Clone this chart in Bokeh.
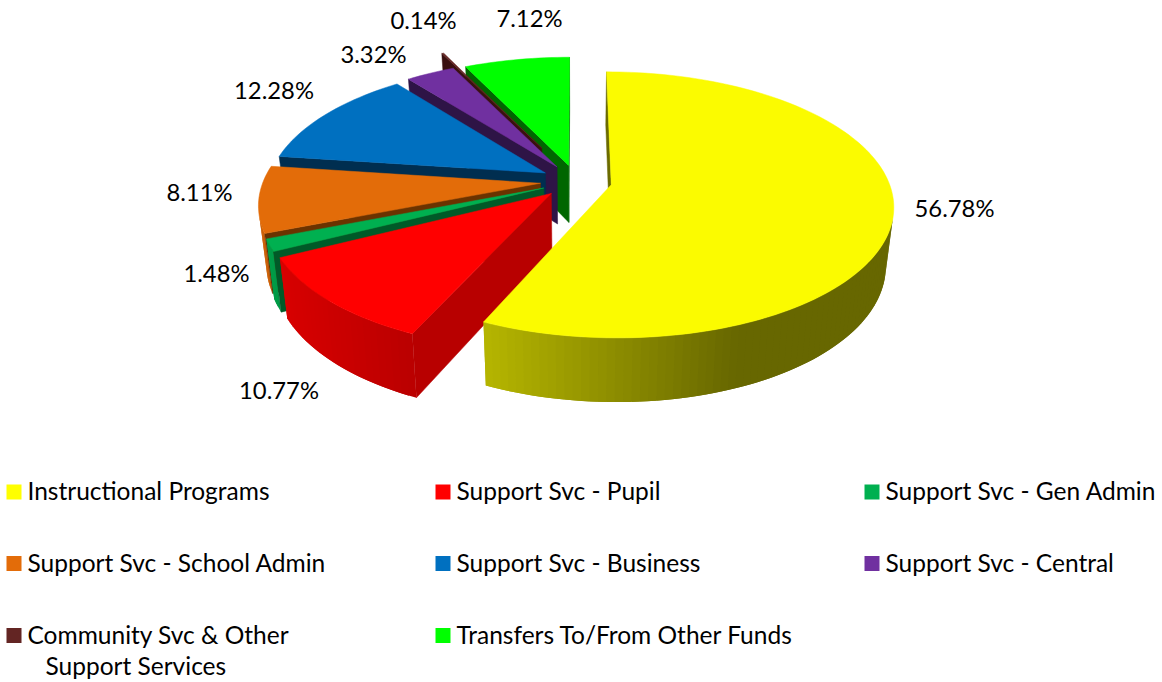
import numpy as np
from bokeh.plotting import figure
from bokeh.models import ColumnDataSource
from bokeh.core.properties import value
from bokeh.embed import file_html
from bokeh.resources import INLINE

categories = ["Instructional Programs", "Support Svc - Pupil", "Support Svc - Gen Admin",
              "Support Svc - School Admin", "Support Svc - Business", "Support Svc - Central",
              "Community Svc & Other", "Transfers To/From Other Funds"]
percent = [56.78, 10.77, 1.48, 8.11, 12.28, 3.32, 0.14, 7.12]
explode = [0.128, 0.129, 0.128, 0.130, 0.130, 0.133, 0.297, 0.128]
top_rgb = [(251, 251, 0), (255, 0, 0), (0, 176, 80), (227, 108, 9),
           (0, 112, 192), (112, 48, 160), (99, 37, 35), (0, 255, 0)]
legend_colors = ["#FFFF00", "#FF0000", "#00B050", "#E36C09", "#0070C0", "#7030A0", "#632523", "#00FF00"]
wall_colors = ["#6B6B00", "#B80000", "#005A28", "#6B3300", "#002E50", "#2E1446", "#3A1010", "#006600"]
label_xy = [(954, 207), (278.5, 389), (216, 272), (199, 191), (273.5, 89), (373, 53), (423, 19), (529, 17)]

# projection of the tilted disc onto the page
X0, Y0, BX, BY, KP, PHI = 575.9, 180.7, 277.3, 128.9, 0.151, -0.03
SHRINK, DEPTH, DEPTH_K = 0.975, 57.0, 0.042


def project(wx, wy):
    w = 1 + KP * wy
    return X0 + BX * wx / w, Y0 - BY * wy / w


def drop(sx, sy):
    return X0 + (sx - X0) * SHRINK, sy + DEPTH + DEPTH_K * (sy - 165)


def shade(rgb, sx):
    f = np.interp(sx, [262, 285, 416, 486, 737], [0.90, 0.84, 0.725, 0.72, 0.41])
    return "#%02x%02x%02x" % tuple(int(round(c * f)) for c in rgb)


def area(px, py):
    return sum(px[k] * py[(k + 1) % 4] - px[(k + 1) % 4] * py[k] for k in range(4))


edges = np.concatenate([[0], np.cumsum(percent)]) / sum(percent) * 360 + PHI
xs, ys, colors, edge_alpha = [], [], [], []


def add(px, py, color, alpha=1.0):
    xs.append(list(px))
    ys.append(list(py))
    colors.append(color)
    edge_alpha.append(alpha)


for i in range(len(percent) - 1, -1, -1):
    a0, a1 = edges[i], edges[i + 1]
    mid = np.radians((a0 + a1) / 2)
    ox, oy = explode[i] * np.sin(mid), explode[i] * np.cos(mid)
    n = max(2, int((a1 - a0) / 1.5))
    t = np.radians(np.linspace(a0, a1, n + 1))
    rx, ry = project(ox + np.sin(t), oy + np.cos(t))
    ax, ay = project(ox, oy)
    brx, bry = drop(rx, ry)
    bax, bay = drop(ax, ay)
    # rim wall, only where it faces the viewer; each strip runs under the next to hide seams
    for j in range(n):
        qx = [rx[j], rx[j + 1], brx[j + 1], brx[j]]
        qy = [ry[j], ry[j + 1], bry[j + 1], bry[j]]
        if area(qx, qy) < 0:
            k = min(j + 2, n)
            add([rx[j], rx[k], brx[k], brx[j]], [ry[j], ry[k], bry[k], bry[j]],
                shade(top_rgb[i], (rx[j] + rx[j + 1]) / 2), 0.0)
    # radial walls, only where they face the viewer
    for idx, sign in ((0, -1), (-1, 1)):
        qx = [ax, rx[idx], brx[idx], bax]
        qy = [ay, ry[idx], bry[idx], bay]
        if area(qx, qy) * sign > 0:
            add(qx, qy, wall_colors[i])
    # top face
    add([ax] + list(rx), [ay] + list(ry), "#%02x%02x%02x" % top_rgb[i])

p = figure(width=1162, height=682, x_range=(0, 1162), y_range=(682, 0), min_border=0,
           toolbar_location=None, output_backend="svg", x_axis_location=None, y_axis_location=None,
           outline_line_color=None, styles={"position": "absolute", "left": "0px", "top": "0px"})
p.grid.visible = False

p.patches("xs", "ys", fill_color="c", line_color="c", line_alpha="la", line_width=0.5,
          source=ColumnDataSource(dict(xs=xs, ys=ys, c=colors, la=edge_alpha)))

FONT = value("Lato")
p.text([q[0] for q in label_xy], [q[1] for q in label_xy], text=["%.2f%%" % v for v in percent],
       text_font=FONT, text_font_size="23.8px", text_align="center", text_baseline="middle",
       text_color="#000000")

col_x = [6, 435, 864]
row_y = [491.5, 563, 635]
lx = [col_x[i % 3] for i in range(len(categories))]
ly = [row_y[i // 3] for i in range(len(categories))]
p.rect([v + 7.5 for v in lx], ly, width=15, height=15, fill_color=legend_colors, line_color=None)
p.text([v + 21 for v in lx], [v - 1.5 for v in ly], text=categories, text_font=FONT, text_font_size="24.5px",
       text_align="left", text_baseline="middle", text_color="#000000")
p.text([45], [664.5], text=["Support Services"], text_font=FONT, text_font_size="24.5px",
       text_align="left", text_baseline="middle", text_color="#000000")

open("out.html", "w").write(file_html(p, INLINE))
